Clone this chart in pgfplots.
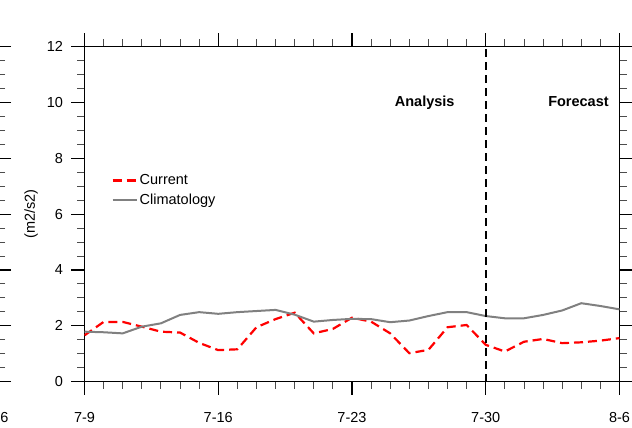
\documentclass[border=0pt]{standalone}
\usepackage{pgfplots}
\pgfplotsset{compat=1.18}
\usepackage{pgfplotstable}
\usepackage{fontspec}
\setmainfont{Liberation Sans}

% day 0 = 7-9, day 28 = 8-6
\pgfplotstableread{
d cur clim
0 1.66 1.79
1 2.14 1.77
2 2.14 1.73
3 1.97 1.97
4 1.79 2.09
5 1.76 2.39
6 1.39 2.49
7 1.13 2.43
8 1.16 2.49
9 1.95 2.53
10 2.24 2.57
11 2.47 2.40
12 1.73 2.15
13 1.89 2.21
14 2.29 2.25
15 2.15 2.24
16 1.73 2.13
17 1.02 2.19
18 1.14 2.35
19 1.95 2.49
20 2.03 2.49
21 1.32 2.35
22 1.08 2.27
23 1.43 2.27
24 1.53 2.39
25 1.38 2.55
26 1.41 2.81
27 1.47 2.71
28 1.56 2.59
}\eketable

\pgfplotsset{nclpanel/.style={
    scale only axis, width=535pt, height=335.2pt,
    xmin=0, xmax=28, ymin=0, ymax=12,
    xtick={0,7,14,21,28}, xticklabels={7-9,7-16,7-23,7-30,8-6},
    minor x tick num=6,
    ytick={0,2,...,12}, minor y tick num=3,
    tick align=outside, major tick length=13pt, minor tick length=7pt,
    axis line style={line width=1.1pt},
    every tick/.style={line width=1.1pt, black},
    every minor tick/.style={line width=0.9pt, black!70},
    tick label style={font=\fontsize{14.5}{17}\selectfont},
    xticklabel style={yshift=-14pt},
    yticklabel style={xshift=-5pt},
    /pgf/number format/assume math mode=true,
}}

\begin{document}
\begin{tikzpicture}
\useasboundingbox (0,0) rectangle (632pt,428pt);
\clip (0,0) rectangle (632pt,428pt);

% neighbouring panel, only its right edge shows
\begin{axis}[nclpanel, at={(-2pt,46.3pt)}, anchor=south east,
    yticklabels={}, xticklabels={,,,,8-6}]
\end{axis}

\begin{axis}[nclpanel, at={(84.5pt,46.3pt)}, anchor=south west,
    ylabel={(m2/s2)}, ylabel style={font=\fontsize{14.5}{17}\selectfont},
    ylabel shift=2pt,
    legend style={at={(rel axis cs:0.05,0.624)}, anchor=north west,
        draw=none, fill=none, font=\fontsize{14.5}{17}\selectfont,
        row sep=4pt, inner sep=0pt},
    legend cell align=left,
    legend image code/.code={\draw[#1] (0pt,0pt) -- (24pt,0pt);},
]
\addplot[red, line width=2.2pt, dash pattern=on 9pt off 5pt] table[x=d, y=cur] {\eketable};
\addplot[gray, line width=2pt] table[x=d, y=clim] {\eketable};
\addplot[black, line width=2.5pt, dash pattern=on 8pt off 5pt, forget plot] coordinates {(21,0) (21,12)};
\legend{Current, Climatology}

\node[anchor=base west, font=\fontsize{14.5}{17}\selectfont] at ([yshift=19.5pt]rel axis cs:0,1) {AEW-filtered EKE};
\node[anchor=base, font=\fontsize{14.5}{17}\selectfont\bfseries] at ([yshift=19.5pt]rel axis cs:0.519,1) {Lat. avg [10N-20N]};
\node[anchor=base east, font=\fontsize{14.5}{17}\selectfont] at ([yshift=19.5pt]rel axis cs:1,1) {Lon. avg: [18W-30E]};
\node[anchor=base east, font=\fontsize{14.5}{17}\selectfont\bfseries] at (axis cs:19.55,9.86) {Analysis};
\node[anchor=base east, font=\fontsize{14.5}{17}\selectfont\bfseries] at (axis cs:27.62,9.86) {Forecast};
\end{axis}
\end{tikzpicture}
\end{document}
